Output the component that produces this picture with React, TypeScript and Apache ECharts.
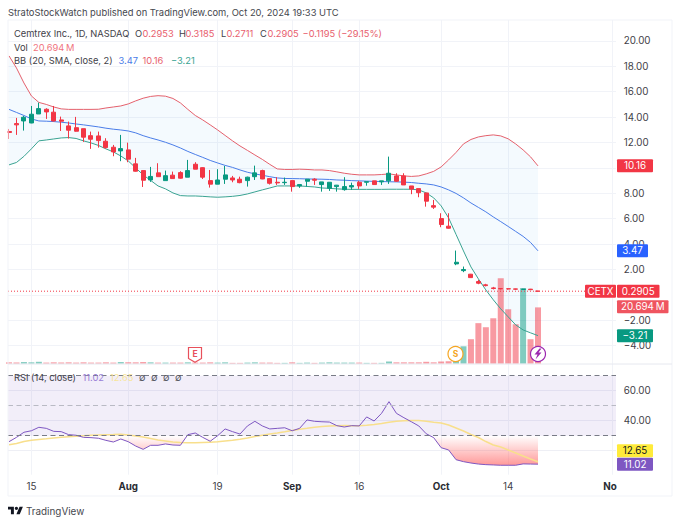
import React, { useEffect, useRef } from "react";
import * as echarts from "echarts";

const opens = [
  12.87,13.49,13.70,13.54,14.25,14.62,14.39,13.78,13.31,13.17,
  13.09,12.54,12.52,12.10,11.63,11.34,11.42,10.32,9.79,9.05,
  9.61,9.00,9.43,9.63,9.27,10.29,10.02,9.00,8.72,9.11,
  9.21,9.11,9.00,9.31,9.79,9.16,8.87,8.84,9.00,8.58,
  8.95,9.11,8.69,8.40,8.53,8.29,8.50,8.87,8.87,8.98,
  8.90,8.98,9.37,9.37,8.58,8.37,8.03,7.03,6.01,5.41,
  2.44,1.91,1.63,1.05,0.79,0.55,0.50,0.48,0.47,0.43,0.45,0.2953,
];
const closes = [
  12.79,13.39,13.99,14.23,14.67,14.41,13.70,13.68,12.97,12.89,
  12.42,12.26,12.15,11.60,11.26,11.52,10.69,9.74,9.03,9.33,
  9.31,9.39,9.16,9.19,9.79,9.90,9.27,8.72,9.05,9.45,
  9.05,8.84,9.27,9.61,9.13,8.79,8.82,8.87,8.53,8.69,
  9.11,9.03,8.90,8.87,8.64,8.53,8.61,8.58,8.92,8.69,
  8.98,9.58,8.95,8.66,8.33,8.05,7.38,6.91,5.54,5.25,
  2.57,2.00,1.36,0.92,0.73,0.50,0.48,0.47,0.45,0.45,0.41,0.2905,
];
const lows = [
  12.28,12.60,12.94,13.52,14.25,13.86,13.65,12.91,12.31,12.86,
  12.05,11.50,11.60,11.52,10.92,10.53,10.45,9.71,8.50,8.90,
  9.31,9.00,9.16,9.16,9.27,9.90,9.13,8.45,8.72,8.74,
  8.87,8.79,8.53,9.05,9.11,8.69,8.66,8.66,8.13,8.43,
  8.53,8.66,8.13,8.19,8.13,8.21,8.27,8.35,8.60,8.66,
  8.66,8.74,8.90,8.66,7.93,7.69,6.95,6.77,5.33,5.22,
  2.34,1.79,1.34,0.84,0.67,0.43,0.43,0.42,0.40,0.41,0.38,0.2711,
];
const highs = [
  13.07,13.94,14.09,14.88,15.14,14.70,14.88,14.04,13.65,14.02,
  13.09,12.86,12.86,12.34,11.81,12.60,11.99,10.79,9.79,10.08,
  10.37,9.79,9.71,9.74,10.63,10.45,10.05,9.84,9.90,10.15,
  9.37,9.31,9.31,10.18,9.86,9.19,9.27,9.24,9.00,8.69,
  9.11,9.19,8.90,8.87,8.66,9.27,8.84,8.98,8.92,8.98,
  8.98,10.89,9.58,9.58,8.58,8.37,8.03,7.48,6.43,6.43,
  3.49,2.23,1.65,1.18,0.87,0.63,0.52,0.50,0.49,0.47,0.47,0.3185,
];
const volumes = [
  0.5,0.4,0.6,0.5,0.7,0.4,0.5,0.4,0.5,0.4,
  0.5,0.4,0.4,0.5,0.4,0.6,0.5,0.5,0.6,0.5,
  0.4,0.4,0.4,0.4,0.5,0.4,0.4,0.5,0.4,0.5,
  0.3,0.3,0.4,0.5,0.4,0.4,0.3,0.3,0.5,0.3,
  0.4,0.3,0.4,0.5,0.4,0.4,0.4,0.4,0.3,0.3,
  0.3,0.8,0.5,0.5,0.5,0.5,0.7,0.5,0.8,0.9,
  4.0,6.4,9.0,14.9,13.4,16.7,31.4,20.0,14.5,27.8,9.0,20.694,
];
const bbUpper = [
  18.82,17.87,16.69,15.67,15.16,15.00,14.80,14.65,14.61,14.61,
  14.61,14.61,14.62,14.72,14.80,14.88,15.04,15.28,15.49,15.63,
  15.69,15.65,15.47,15.12,14.61,14.13,13.78,13.39,12.99,12.56,
  12.13,11.73,11.38,11.02,10.67,10.28,9.92,9.88,9.88,9.90,
  9.88,9.84,9.84,9.79,9.69,9.58,9.50,9.45,9.45,9.45,
  9.48,9.53,9.45,9.37,9.33,9.37,9.53,9.73,10.08,10.63,
  11.22,11.89,12.24,12.44,12.54,12.60,12.52,12.29,11.89,11.42,10.87,10.16,
];
const bbBasis = [
  14.61,14.37,14.13,13.86,13.70,13.68,13.65,13.60,13.54,13.46,
  13.39,13.31,13.23,13.13,13.05,12.99,12.91,12.76,12.54,12.36,
  12.20,12.02,11.81,11.57,11.30,11.06,10.83,10.59,10.39,10.20,
  10.04,9.84,9.66,9.53,9.42,9.31,9.21,9.17,9.16,9.15,
  9.13,9.12,9.11,9.09,9.05,9.03,9.00,8.98,8.96,8.94,
  8.93,8.91,8.90,8.88,8.85,8.79,8.74,8.66,8.50,8.27,
  7.99,7.64,7.24,6.89,6.54,6.14,5.77,5.39,5.00,4.61,4.13,3.47,
];
const bbLower = [
  10.24,10.43,10.91,11.50,12.13,12.20,12.28,12.36,12.39,12.32,
  12.13,11.97,11.77,11.50,11.26,10.94,10.55,10.00,9.45,9.02,
  8.58,8.35,8.03,7.82,7.79,7.79,7.76,7.72,7.69,7.72,
  7.76,7.83,7.95,8.11,8.27,8.42,8.58,8.58,8.58,8.58,
  8.54,8.50,8.42,8.39,8.35,8.32,8.31,8.31,8.31,8.31,
  8.31,8.32,8.32,8.32,8.32,8.27,8.03,7.64,7.01,6.06,
  4.76,3.46,2.20,1.26,0.39,-0.39,-1.10,-1.73,-2.36,-2.76,-2.99,-3.21,
];
const rsi = [
  26.0,28.9,32.3,33.3,35.6,34.9,32.9,32.7,30.7,30.3,
  28.9,28.7,28.3,26.9,25.8,27.8,26.0,23.1,20.9,23.6,
  23.6,24.5,23.8,23.6,30.7,31.8,28.9,26.3,30.0,34.5,
  32.7,31.1,36.5,39.6,36.5,34.5,34.9,35.3,33.3,34.9,
  40.5,39.6,39.3,39.1,36.7,35.8,36.7,36.5,42.5,39.8,
  44.9,52.7,44.9,42.0,39.3,36.5,31.3,28.7,22.0,20.5,
  14.0,12.7,11.8,11.1,10.7,10.5,10.3,10.3,10.3,11.2,11.1,11.02,
];
const rsiMa = [
  24.0,24.8,26.1,26.9,27.5,27.9,28.5,28.9,29.3,29.7,
  30.0,30.3,30.5,30.7,30.8,31.0,30.5,29.8,29.1,28.1,
  27.1,26.5,25.8,25.5,25.3,25.3,25.5,25.7,25.9,26.5,
  26.9,27.6,28.5,29.5,30.3,31.1,31.8,32.6,33.5,34.3,
  34.9,35.6,36.1,36.5,36.7,36.8,36.7,36.7,37.0,37.5,
  38.1,38.9,39.7,40.0,40.1,40.1,39.6,38.9,38.5,37.1,
  35.1,33.1,30.8,28.8,26.1,23.8,22.5,20.5,18.5,16.5,14.5,12.65,
];
const tickIndex = [3, 16, 28, 38, 47, 58, 67, 81];
const tickLabels = ["15", "Aug", "19", "Sep", "16", "Oct", "14", "No"];
const boldLabels = ["Aug", "Sep", "Oct", "No"];
const priceTicks = [20, 18, 16, 14, 12, 10, 8, 6, 4, 2, 0, -2, -4];
const priceLabels = [20, 18, 16, 14, 12, 8, 6, 4, 2, -2, -4];
const rsiTicks = [60, 40, 20];
const rsiLabels = [60, 40];

const RED = "#F23645";
const GREEN = "#089981";
const BLUE = "#2962FF";
const PURPLE = "#7E57C2";
const YELLOW = "#f8df8c";
const FONT = "Inter, Roboto, sans-serif";
const GRID = "#f1f3f8";
const TEXT = "#3f4148";
const LEG = 9.3;
const AX = 9.8;

const LOGO =
  "M14 22H7V11H0V4h14v18zM28 22h-8l7.5-18h8L28 22zM24 8a4 4 0 1 1-8 0a4 4 0 0 1 8 0z";
const BOLT = "M5 0L0 6h3L1 11l6-7H4l3-4z";
echarts.graphic.registerShape("tvlogo", echarts.graphic.extendPath(LOGO as any, {} as any) as any);
echarts.graphic.registerShape("boltmark", echarts.graphic.extendPath(BOLT as any, {} as any) as any);

export default function App() {
  const ref = useRef<HTMLDivElement>(null);
  useEffect(() => {
    const chart = echarts.init(ref.current!, undefined, { renderer: "svg" });

    const label = (text: string, x: number, y: number, fill = TEXT, size = LEG, weight: any = 400, align = "left") => ({
      type: "text",
      x,
      y,
      z: 100,
      silent: true,
      style: { text, fill, font: `${weight} ${size}px ${FONT}`, textAlign: align, textVerticalAlign: "middle" },
    });
    const box = (x: number, y: number, width: number, height: number, fill: string) => ({
      type: "rect",
      z: 99,
      silent: true,
      shape: { x, y, width, height, r: 1 },
      style: { fill },
    });
    const tag = (text: string, x: number, yc: number, width: number, fill: string, color = "#fff") => [
      box(x, yc - 6.5, width, 13, fill),
      label(text, x + width / 2, yc, color, AX, 400, "center"),
    ];

    const x0 = -0.14;
    const x1 = 81.47;
    const lastClose = closes[closes.length - 1];

    const bandSeries = {
      type: "custom",
      coordinateSystem: "cartesian2d",
      xAxisIndex: 0,
      yAxisIndex: 0,
      z: 1,
      silent: true,
      data: [[0, bbUpper[0]]],
      renderItem: (_p: any, api: any) => {
        const pts: number[][] = [];
        bbUpper.forEach((v, i) => pts.push(api.coord([i, v])));
        for (let i = bbLower.length - 1; i >= 0; i--) pts.push(api.coord([i, bbLower[i]]));
        return { type: "polygon", shape: { points: pts }, style: { fill: "rgba(33,150,243,0.05)" } };
      },
    };
    const rsiFill = {
      type: "custom",
      coordinateSystem: "cartesian2d",
      xAxisIndex: 1,
      yAxisIndex: 2,
      z: 2,
      silent: true,
      data: [[0, 30]],
      renderItem: (_p: any, api: any) => {
        const pts: number[][] = [api.coord([0, 30])];
        rsi.forEach((v, i) => pts.push(api.coord([i, Math.min(v, 30)])));
        pts.push(api.coord([rsi.length - 1, 30]));
        const yTop = api.coord([0, 30])[1];
        const yBot = api.coord([0, 10])[1];
        return {
          type: "polygon",
          shape: { points: pts },
          style: {
            fill: new echarts.graphic.LinearGradient(0, yTop, 0, yBot, [
              { offset: 0, color: "rgba(255,82,82,0)" },
              { offset: 1, color: "rgba(255,82,82,0.6)" },
            ], true),
          },
        };
      },
    };

    const option: any = {
      animation: false,
      backgroundColor: "#fff",
      textStyle: { fontFamily: FONT },
      grid: [
        { left: 8, right: 64, top: 20, height: 343.7 },
        { left: 8, right: 64, top: 363.7, height: 111 },
      ],
      xAxis: [
        {
          type: "value",
          gridIndex: 0,
          min: x0,
          max: x1,
          axisLine: { show: false },
          axisLabel: { show: false, customValues: tickIndex },
          axisTick: { show: false, customValues: tickIndex },
          splitLine: { show: true, lineStyle: { color: GRID, width: 1 } },
        },
        {
          type: "value",
          gridIndex: 1,
          min: x0,
          max: x1,
          axisLine: { show: false },
          axisTick: { show: false, customValues: tickIndex },
          splitLine: { show: true, lineStyle: { color: GRID, width: 1 } },
          axisLabel: {
            customValues: tickIndex,
            margin: 7,
            hideOverlap: false,
            showMinLabel: true,
            showMaxLabel: true,
            formatter: (v: number) => {
              const t = tickLabels[tickIndex.indexOf(Math.round(v))] ?? "";
              if (t === "No") return `{e|${t}}`;
              return boldLabels.includes(t) ? `{b|${t}}` : `{n|${t}}`;
            },
            rich: {
              n: { fontFamily: FONT, fontSize: AX, color: TEXT },
              b: { fontFamily: FONT, fontSize: AX, fontWeight: 700, color: "#2a2c33" },
              e: { fontFamily: FONT, fontSize: AX, fontWeight: 700, color: "#2a2c33", padding: [0, 5, 0, 0] },
            },
          },
        },
      ],
      yAxis: [
        {
          type: "value",
          gridIndex: 0,
          position: "right",
          min: -5.42,
          max: 21.65,
          axisLine: { show: false },
          axisTick: { show: false, customValues: priceTicks },
          splitLine: { show: true, lineStyle: { color: GRID, width: 1 } },
          axisLabel: {
            customValues: priceLabels,
            margin: 7.7,
            color: TEXT,
            fontSize: AX,
            fontFamily: FONT,
            formatter: (v: number) => v.toFixed(2).replace("-", "\u2212"),
          },
        },
        {
          type: "value",
          gridIndex: 0,
          position: "left",
          min: 0,
          max: 126.3,
          show: false,
          splitLine: { show: false },
        },
        {
          type: "value",
          gridIndex: 1,
          position: "right",
          min: 4,
          max: 78,
          axisLine: { show: false },
          axisTick: { show: false, customValues: rsiTicks },
          splitLine: { show: true, lineStyle: { color: "#eeeff5", width: 1 } },
          axisLabel: {
            customValues: rsiLabels,
            margin: 7.7,
            color: TEXT,
            fontSize: AX,
            fontFamily: FONT,
            formatter: (v: number) => v.toFixed(2),
          },
        },
      ],
      series: [
        bandSeries,
        {
          type: "bar",
          xAxisIndex: 0,
          yAxisIndex: 1,
          barWidth: 6,
          z: 2,
          silent: true,
          data: volumes.map((v, i) => ({
            value: [i, v],
            itemStyle: { color: closes[i] >= opens[i] ? "rgba(8,153,129,0.5)" : "rgba(242,54,69,0.5)" },
          })),
        },
        {
          type: "line",
          name: "Upper",
          xAxisIndex: 0,
          yAxisIndex: 0,
          z: 3,
          showSymbol: false,
          silent: true,
          lineStyle: { color: "#e4606c", width: 1 },
          data: bbUpper.map((v, i) => [i, v]),
        },
        {
          type: "line",
          name: "Basis",
          xAxisIndex: 0,
          yAxisIndex: 0,
          z: 3,
          showSymbol: false,
          silent: true,
          lineStyle: { color: "#4a7de8", width: 1 },
          data: bbBasis.map((v, i) => [i, v]),
        },
        {
          type: "line",
          name: "Lower",
          xAxisIndex: 0,
          yAxisIndex: 0,
          z: 3,
          showSymbol: false,
          silent: true,
          lineStyle: { color: "#3aa392", width: 1 },
          data: bbLower.map((v, i) => [i, v]),
        },
        {
          type: "line",
          name: "Last price",
          xAxisIndex: 0,
          yAxisIndex: 0,
          z: 3,
          showSymbol: false,
          silent: true,
          itemStyle: { color: RED },
          lineStyle: { color: RED, type: [1, 2], width: 1 },
          data: [[x0, lastClose], [x1, lastClose]],
        },
        {
          type: "candlestick",
          xAxisIndex: 0,
          yAxisIndex: 0,
          z: 4,
          barWidth: 4.5,
          silent: true,
          itemStyle: {
            color: GREEN,
            color0: RED,
            borderColor: GREEN,
            borderColor0: RED,
            borderWidth: 1,
          },
          data: closes.map((c, i) => [i, opens[i], c, lows[i], highs[i]]),
        },
        rsiFill,
        {
          type: "line",
          name: "RSI MA",
          xAxisIndex: 1,
          yAxisIndex: 2,
          z: 3,
          showSymbol: false,
          silent: true,
          lineStyle: { color: YELLOW, width: 1.5 },
          data: rsiMa.map((v, i) => [i, v]),
        },
        {
          type: "line",
          name: "RSI",
          xAxisIndex: 1,
          yAxisIndex: 2,
          z: 4,
          showSymbol: false,
          silent: true,
          lineStyle: { color: PURPLE, width: 1 },
          data: rsi.map((v, i) => [i, v]),
          markArea: {
            silent: true,
            itemStyle: { color: "rgba(126,87,194,0.1)" },
            data: [[{ yAxis: 30 }, { yAxis: 70 }]],
          },
          markLine: {
            silent: true,
            symbol: "none",
            label: { show: false },
            data: [
              { yAxis: 70, lineStyle: { color: "#787B86", type: [5, 3.5], width: 1 } },
              { yAxis: 50, lineStyle: { color: "#b9bac4", type: [5, 3.5], width: 1 } },
              { yAxis: 30, lineStyle: { color: "#787B86", type: [5, 3.5], width: 1 } },
            ],
          },
        },
      ],
      graphic: [
        { type: "rect", z: 98, silent: true, shape: { x: 8, y: 20, width: 664, height: 476 }, style: { fill: "none", stroke: GRID, lineWidth: 1 } },
        { type: "line", z: 98, silent: true, shape: { x1: 8, y1: 364, x2: 672, y2: 364 }, style: { stroke: "#e6e8ef", lineWidth: 1 } },
        label("StratoStockWatch published on TradingView.com, Oct 20, 2024 19:33 UTC", 8, 12, "#45474e", 9.4),
        label("Cemtrex Inc., 1D, NASDAQ", 14, 33.5),
        label("O", 135, 33.5),
        label("0.2953", 142.5, 33.5, "#e8606d"),
        label("H", 179, 33.5),
        label("0.3185", 185.5, 33.5, "#e8606d"),
        label("L", 221, 33.5),
        label("0.2711", 226.5, 33.5, "#e8606d"),
        label("C", 260, 33.5),
        label("0.2905", 267.5, 33.5, "#e8606d"),
        label("\u22120.1195 (\u221229.15%)", 302.5, 33.5, "#e8606d"),
        label("Vol", 14, 47),
        label("20.694\u2009M", 33, 47, "#f0747e"),
        label("BB (20, SMA, close, 2)", 14, 60),
        label("3.47", 118.5, 60, "#4a7de8"),
        label("10.16", 142.5, 60, "#e8606d"),
        label("\u22123.21", 171, 60, "#3aa392"),
        label("RSI (14, close)", 14, 377),
        label("11.02", 82.5, 377, "#9a80d6"),
        label("12.65", 110, 377, "#f8e59a"),
        label("\u2205", 139, 377, "#55575e", 9.5),
        label("\u2205", 151, 377, "#55575e", 9.5),
        label("\u2205", 163, 377, "#55575e", 9.5),
        label("\u2205", 175, 377, "#55575e", 9.5),
        label("TradingView", 26, 510.5, "#45474e", 9.9),
        { type: "tvlogo", x: 8, y: 505, scaleX: 0.42, scaleY: 0.42, z: 100, silent: true, style: { fill: "#131722" } },
        ...tag("CETX", 585, 291.3, 31, RED),
        ...tag("0.2905", 617, 291.3, 42.5, RED),
        ...tag("20.694\u2009M", 617, 306.8, 51.5, "#ef5560"),
        ...tag("10.16", 617, 165.8, 36, RED),
        ...tag("3.47", 617, 250.8, 31, BLUE),
        ...tag("\u22123.21", 617, 335.8, 36, GREEN),
        ...tag("12.65", 617, 450.7, 36, "#FFEB3B", "#131722"),
        ...tag("11.02", 617, 464.3, 36, PURPLE),
        {
          type: "polygon",
          z: 101,
          silent: true,
          shape: { points: [[188.5, 347.5], [201.5, 347.5], [201.5, 358.5], [195, 362.3], [188.5, 358.5]] },
          style: { fill: "#fff", stroke: "#e8505b", lineWidth: 1.2 },
        },
        { ...label("E", 195, 354.3, "#e8505b", 8.5, 700, "center"), z: 102 },
        { type: "circle", z: 101, silent: true, shape: { cx: 455.5, cy: 354, r: 7.5 }, style: { fill: "#fff", stroke: "#f5a623", lineWidth: 1.2 } },
        { ...label("S", 455.5, 354.3, "#f5a623", 8.5, 700, "center"), z: 102 },
        { type: "circle", z: 101, silent: true, shape: { cx: 538, cy: 354, r: 7.5 }, style: { fill: "#fff", stroke: "#9c27b0", lineWidth: 1.2 } },
        { type: "boltmark", x: 534.5, y: 348.5, z: 102, silent: true, style: { fill: "#9c27b0" } },
      ],
    };
    chart.setOption(option);
    return () => chart.dispose();
  }, []);
  return <div ref={ref} style={{ position: "fixed", left: 0, top: 0, width: 680, height: 524 }} />;
}
